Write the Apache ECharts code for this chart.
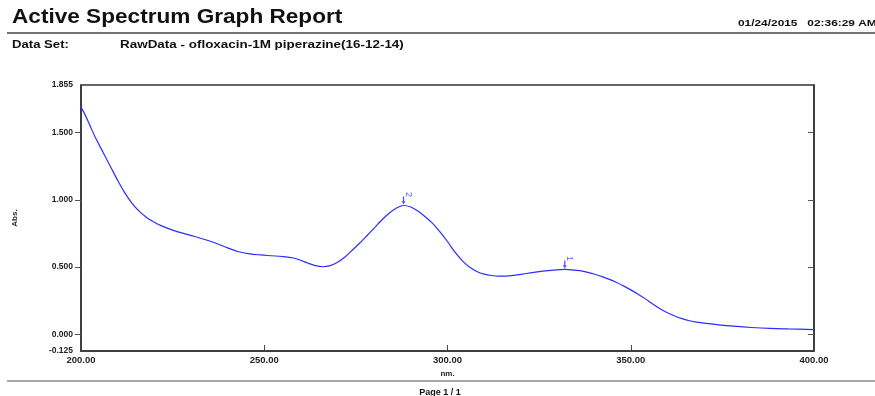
<!DOCTYPE html>
<html>
<head>
<meta charset="utf-8">
<title>Active Spectrum Graph Report</title>
<script src="https://cdn.jsdelivr.net/npm/echarts@6/dist/echarts.min.js"></script>
<style>
  html, body { margin: 0; padding: 0; background: #fff; }
  #chart { width: 875px; height: 396px; }
</style>
</head>
<body>
<div id="chart"></div>
<script>
// Absorbance scan, 200–400 nm
const wavelength = [200, 201, 202.5, 204, 206, 208, 210, 212, 214, 216, 218, 220, 222, 225, 228, 231, 234, 237, 240, 243,
  246, 249, 252, 255, 258, 260, 262, 264, 266, 268, 270, 272, 274, 276, 278, 280, 282, 284, 286, 288,
  290, 292, 294, 296, 298, 300, 302, 304, 306, 308, 310, 312, 314, 316, 318, 320, 323, 326, 329, 332,
  334, 336, 338, 340, 342, 344, 346, 348, 350, 352, 354, 356, 358, 360, 362, 364, 366, 368, 370, 374,
  378, 383, 388, 393, 398, 400];
const absorbance = [1.69, 1.64, 1.55, 1.46, 1.355, 1.25, 1.145, 1.05, 0.972, 0.912, 0.867, 0.833, 0.806, 0.775, 0.75, 0.727, 0.703, 0.675, 0.643, 0.614,
  0.598, 0.59, 0.584, 0.578, 0.567, 0.55, 0.528, 0.51, 0.502, 0.51, 0.535, 0.575, 0.625, 0.677, 0.733, 0.79, 0.848, 0.898, 0.937, 0.958,
  0.947, 0.915, 0.873, 0.823, 0.76, 0.69, 0.612, 0.548, 0.50, 0.467, 0.447, 0.437, 0.433, 0.433, 0.438, 0.446, 0.458, 0.469, 0.477, 0.482,
  0.479, 0.473, 0.462, 0.448, 0.43, 0.41, 0.387, 0.36, 0.33, 0.298, 0.263, 0.225, 0.19, 0.16, 0.136, 0.116, 0.10, 0.09, 0.082, 0.07,
  0.06, 0.05, 0.043, 0.039, 0.036, 0.034];

// Picked peaks
const peakNm = [332, 288];
const peakAbs = [0.482, 0.958];
const peakLabels = ['1', '2'];

// Axis label values
const yLabelValues = [-0.125, 0, 0.5, 1, 1.5, 1.855];
const yTickValues = [0, 0.5, 1, 1.5];

const lineData = wavelength.map((w, i) => [w, absorbance[i]]);
const peakData = peakNm.map((w, i) => ({ value: [w, peakAbs[i]], name: peakLabels[i] }));

const font = 'Liberation Sans, Arial, sans-serif';
const chart = echarts.init(document.getElementById('chart'), null, { renderer: 'canvas' });

chart.setOption({
  animation: false,
  backgroundColor: '#fff',
  grid: {
    left: 81, right: 61, top: 85, bottom: 45,
    show: true, borderColor: '#333', borderWidth: 1.5, backgroundColor: 'transparent'
  },
  xAxis: {
    type: 'value', min: 200, max: 400, interval: 50,
    name: 'nm.', nameLocation: 'middle', nameGap: 15,
    nameTextStyle: { fontFamily: font, fontSize: 8, fontWeight: 'bold', color: '#222' },
    axisLine: { show: true, onZero: false, lineStyle: { color: '#333', width: 1.5 } },
    axisTick: { show: true, inside: true, length: 6, lineStyle: { color: '#444' } },
    axisLabel: {
      fontFamily: font, fontSize: 9.5, fontWeight: 'bold', color: '#222', margin: 4,
      formatter: v => v.toFixed(2)
    },
    splitLine: { show: false }
  },
  yAxis: [{
    type: 'value', min: -0.125, max: 1.855,
    name: 'Abs.', nameLocation: 'middle', nameGap: 62,
    nameTextStyle: { fontFamily: font, fontSize: 8, fontWeight: 'bold', color: '#222' },
    axisLine: { show: true, onZero: false, lineStyle: { color: '#333', width: 1.5 } },
    axisTick: { show: true, length: 6, customValues: yTickValues, lineStyle: { color: '#555' } },
    axisLabel: {
      fontFamily: font, fontSize: 8.5, fontWeight: 'bold', color: '#222', margin: 8,
      customValues: yLabelValues, formatter: v => v.toFixed(3)
    },
    splitLine: { show: false }
  }, {
    type: 'value', min: -0.125, max: 1.855, position: 'right',
    axisLine: { show: true, onZero: false, lineStyle: { color: '#333', width: 1.5 } },
    axisTick: { show: true, inside: true, length: 6, customValues: yTickValues, lineStyle: { color: '#555' } },
    axisLabel: { show: false },
    splitLine: { show: false }
  }],
  series: [{
    type: 'line',
    data: lineData,
    showSymbol: false,
    smooth: 0.35,
    lineStyle: { color: '#2d2dff', width: 1.2 },
    z: 3
  }, {
    type: 'scatter',
    data: peakData,
    symbol: 'path://M0,0 L2,0 L2,6 L4,6 L1,10 L-2,6 L0,6 Z',
    symbolSize: [4, 8],
    symbolOffset: [0, -5],
    itemStyle: { color: '#2d2dff' },
    label: {
      show: true, position: 'top', distance: 2, rotate: -90,
      formatter: p => p.name,
      fontFamily: font, fontSize: 9, color: '#2d2dff'
    },
    z: 4
  }],
  graphic: [
    { type: 'text', left: 12, top: 7, scaleX: 1.13,
      style: { text: 'Active Spectrum Graph Report', fontFamily: font, fontSize: 20, fontWeight: 'bold', fill: '#111' } },
    { type: 'text', x: 738, y: 19, scaleX: 1.32,
      style: { text: '01/24/2015   02:36:29 AM', fontFamily: font, fontSize: 9, fontWeight: 'bold', fill: '#111' } },
    { type: 'line', shape: { x1: 7, y1: 33, x2: 875, y2: 33 }, style: { stroke: '#444', lineWidth: 1.5 } },
    { type: 'text', x: 12, y: 40, scaleX: 1.25,
      style: { text: 'Data Set:', fontFamily: font, fontSize: 10.5, fontWeight: 'bold', fill: '#111' } },
    { type: 'text', x: 120, y: 40, scaleX: 1.28,
      style: { text: 'RawData - ofloxacin-1M piperazine(16-12-14)', fontFamily: font, fontSize: 10.5, fontWeight: 'bold', fill: '#111' } },
    { type: 'line', shape: { x1: 7, y1: 381, x2: 875, y2: 381 }, style: { stroke: '#555', lineWidth: 1.2 } },
    { type: 'text', x: 440, y: 388,
      style: { text: 'Page 1 / 1', fontFamily: font, fontSize: 9, fontWeight: 'bold', fill: '#111', textAlign: 'center' } }
  ]
});
</script>
</body>
</html>
